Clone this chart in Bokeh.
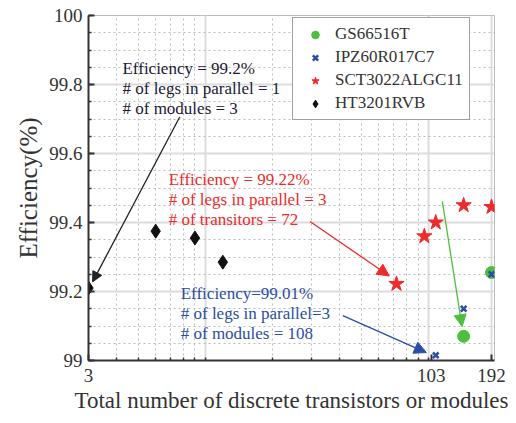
from bokeh.plotting import figure
from bokeh.models import (FixedTicker, CustomJSTickFormatter, Legend, LegendItem,
                          Arrow, NormalHead, Label, Range1d)
from bokeh.embed import file_html
from bokeh.resources import INLINE

# ---- data ----
gs_x = [144, 192]
gs_y = [99.07, 99.255]
ipz_x = [108, 144, 192]
ipz_y = [99.015, 99.15, 99.25]
sct_x = [72, 96, 108, 144, 192]
sct_y = [99.222, 99.36, 99.40, 99.45, 99.445]
ht_x = [3, 6, 9, 12]
ht_y = [99.21, 99.375, 99.355, 99.285]

x_ticks = [3, 103, 192]
y_ticks = [99, 99.2, 99.4, 99.6, 99.8, 100]

series_names = ["GS66516T", "IPZ60R017C7", "SCT3022ALGC11", "HT3201RVB"]

ann_black = ["Efficiency = 99.2%", "# of legs in parallel = 1", "# of modules = 3"]
ann_red = ["Efficiency = 99.22%", "# of legs in parallel = 3", "# of transitors = 72"]
ann_blue = ["Efficiency=99.01%", "# of legs in parallel=3", "# of modules = 108"]

# annotation anchors (data coords)
ann_black_pos = (4.26, 99.847)
ann_red_pos = (6.86, 99.5245)
ann_blue_pos = (7.77, 99.193)

arrow_black = (7.69, 99.706, 3.13, 99.228)
arrow_red = (29.5, 99.403, 66.9, 99.245)
arrow_blue = (41.4, 99.13, 98.0, 99.023)
arrow_green = (115.6, 99.461, 141.7, 99.098)

FONT = "'Liberation Serif', serif"
GREEN = "#4dbf3f"
BLUE = "#2a4ea6"
RED = "#ee2a2a"
BLACK = "#111111"

p = figure(width=508, height=415, x_axis_type="log",
           x_range=Range1d(3, 198), y_range=Range1d(99, 100),
           output_backend="svg", toolbar_location=None,
           min_border_left=88, min_border_right=14,
           min_border_top=15, min_border_bottom=53)
p.background_fill_color = "white"
p.border_fill_color = "white"
p.outline_line_color = "#bbbbbb"
p.outline_line_width = 1

minor_x = [4, 5, 6, 7, 8, 9, 10, 20, 30, 40, 50, 60, 70, 80, 90, 100]
p.xaxis.ticker = FixedTicker(ticks=x_ticks, minor_ticks=minor_x)
p.xgrid.ticker = FixedTicker(ticks=[10, 100, 192],
                             minor_ticks=[4, 5, 6, 7, 8, 9, 20, 30, 40, 50, 60, 70, 80, 90])
minor_y = [round(99 + 0.05 * i, 2) for i in range(21)]
p.yaxis.ticker = FixedTicker(ticks=y_ticks, minor_ticks=minor_y)
p.ygrid.ticker = FixedTicker(ticks=y_ticks, minor_ticks=minor_y)
p.yaxis.formatter = CustomJSTickFormatter(code="return Number(tick.toFixed(1)).toString();")
p.xaxis.formatter = CustomJSTickFormatter(code="return Math.round(tick).toString();")

for g in (p.xgrid, p.ygrid):
    g.grid_line_color = "#dcdcdc"
    g.grid_line_width = 2
    g.minor_grid_line_color = "#bdbdbd"
    g.minor_grid_line_dash = "2 3"
    g.minor_grid_line_width = 1

for ax in (p.xaxis, p.yaxis):
    ax.axis_line_color = "#333333"
    ax.axis_line_width = 2
    ax.major_tick_in = 6
    ax.major_tick_out = 0
    ax.minor_tick_in = 3
    ax.minor_tick_out = 0
    ax.major_tick_line_color = "#333333"
    ax.minor_tick_line_color = "#333333"
    ax.major_tick_line_width = 2
    ax.minor_tick_line_width = 1.5
    ax.major_label_text_font = FONT
    ax.major_label_text_font_size = "19px"
    ax.major_label_text_color = "#333333"
    ax.axis_label_text_font = FONT
    ax.axis_label_text_font_style = "normal"
    ax.axis_label_text_color = "#333333"

p.xaxis.axis_label = "Total number of discrete transistors or modules"
p.yaxis.axis_label = "Efficiency(%)"
p.xaxis.axis_label_text_font_size = "23px"
p.yaxis.axis_label_text_font_size = "25px"
p.xaxis.major_label_standoff = 8
p.xaxis.axis_label_standoff = 3
p.yaxis.major_label_standoff = 6
p.yaxis.axis_label_standoff = 4

r_gs = p.scatter(gs_x, gs_y, marker="circle", size=12, fill_color=GREEN, line_color=GREEN)
r_ipz = p.scatter(ipz_x, ipz_y, marker="x", size=8, line_color=BLUE, line_width=2.5)
r_sct = p.scatter(sct_x, sct_y, marker="star", size=16, fill_color=RED, line_color=RED)
r_ht = p.scatter(ht_x, ht_y, marker="diamond", size=14, fill_color=BLACK, line_color=BLACK)

# arrows
def add_arrow(coords, color, size, width=1.3):
    x0, y0, x1, y1 = coords
    p.add_layout(Arrow(end=NormalHead(size=size, fill_color=color, line_color=color),
                       x_start=x0, y_start=y0, x_end=x1, y_end=y1,
                       line_color=color, line_width=width))

add_arrow(arrow_black, "#222222", 10)
add_arrow(arrow_red, RED, 12)
add_arrow(arrow_blue, BLUE, 12)
add_arrow(arrow_green, GREEN, 12)

def add_block(lines, pos, color):
    for i, t in enumerate(lines):
        p.add_layout(Label(x=pos[0], y=pos[1], y_offset=-20 * i, text=t,
                           text_font=FONT, text_font_size="17px",
                           text_color=color, text_baseline="middle", text_align="left"))

add_block(ann_black, ann_black_pos, "#1a1a33")
add_block(ann_red, ann_red_pos, RED)
add_block(ann_blue, ann_blue_pos, BLUE)

legend = Legend(items=[LegendItem(label=n, renderers=[r]) for n, r in
                       zip(series_names, [r_gs, r_ipz, r_sct, r_ht])],
                location=(204, 240))
legend.label_text_font = FONT
legend.label_text_font_size = "17px"
legend.label_text_color = "#333333"
legend.padding = 6
legend.glyph_width = 32
legend.glyph_height = 19
legend.label_height = 19
legend.label_standoff = 4
legend.spacing = 3
legend.label_width = 100
legend.border_line_color = "#444444"
legend.border_line_width = 1.5
legend.background_fill_alpha = 1
legend.margin = 0
p.add_layout(legend)

open("out.html", "w").write(file_html(p, INLINE))
